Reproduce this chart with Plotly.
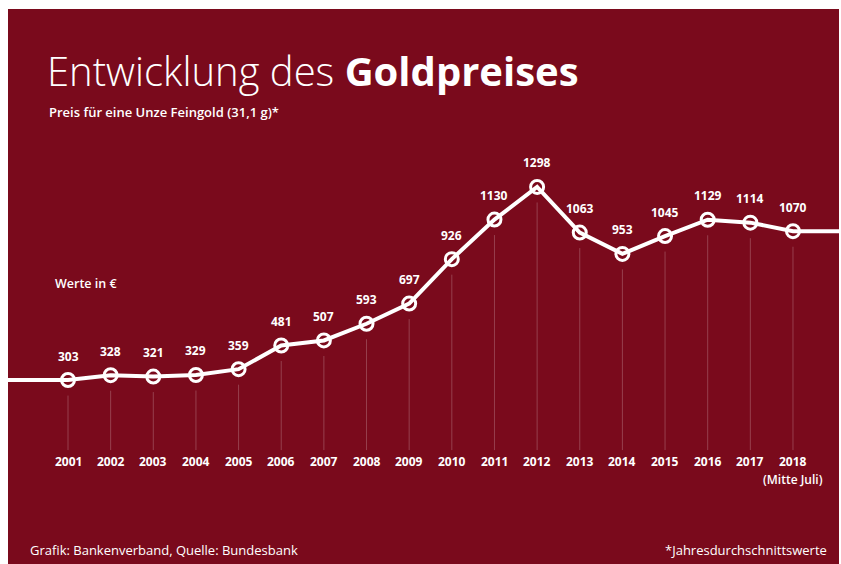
import plotly.graph_objects as go

# Gold price, annual averages in EUR per troy ounce
years = [2001, 2002, 2003, 2004, 2005, 2006, 2007, 2008, 2009,
         2010, 2011, 2012, 2013, 2014, 2015, 2016, 2017, 2018]
prices = [303, 328, 321, 329, 359, 481, 507, 593, 697,
          926, 1130, 1298, 1063, 953, 1045, 1129, 1114, 1070]
year_labels = [str(y) for y in years]

BG = "#7a0a1c"
WHITE = "#ffffff"
FONT = "Open Sans"

W, H = 841, 564
PANEL_L, PANEL_R, PANEL_T, PANEL_B = 8, 839, 9, 564

X_RANGE = [1999.593, 2019.079]
Y_RANGE = [-645, 2215]
DROP_BOTTOM = -58
DROP_GAP = 80


def py(pix):
    """Pixel row (from the top) -> paper coordinate of the plot area."""
    return (PANEL_B - pix) / (PANEL_B - PANEL_T)


def px(pix):
    """Pixel column -> paper coordinate of the plot area."""
    return (pix - PANEL_L) / (PANEL_R - PANEL_L)


fig = go.Figure()

# thin guide lines from each point down to the year labels
for x, v in zip(years, prices):
    fig.add_shape(type="line", x0=x, x1=x, y0=v - DROP_GAP, y1=DROP_BOTTOM,
                  xref="x", yref="y",
                  line=dict(color="rgba(255,255,255,0.22)", width=1))

# line runs off both edges of the panel at the first/last values
fig.add_trace(go.Scatter(
    x=[X_RANGE[0]] + years + [X_RANGE[1]],
    y=[prices[0]] + prices + [prices[-1]],
    mode="lines",
    line=dict(color=WHITE, width=4),
    hoverinfo="skip", showlegend=False,
))
fig.add_trace(go.Scatter(
    x=years, y=prices,
    mode="markers",
    marker=dict(symbol="circle-open", size=13, color=WHITE,
                line=dict(color=WHITE, width=3)),
    showlegend=False,
))

annotations = []

# value labels above the points
for x, v in zip(years, prices):
    annotations.append(dict(x=x, y=v, xref="x", yref="y", text=f"<b>{v}</b>",
                            showarrow=False, yshift=24,
                            font=dict(family=FONT, size=12, color=WHITE)))

# year labels under the guide lines
for x, lab in zip(years, year_labels):
    annotations.append(dict(x=x, y=py(461), xref="x", yref="paper",
                            text=f"<b>{lab}</b>", showarrow=False,
                            yanchor="middle",
                            font=dict(family=FONT, size=12, color=WHITE)))

annotations.append(dict(x=years[-1], y=py(479), xref="x", yref="paper",
                        text="(Mitte Juli)", showarrow=False, yanchor="middle",
                        font=dict(family=FONT, size=12, color=WHITE,
                                  weight=600)))


def label(xp, yp, text, size, anchor="left", weight=None):
    font = dict(family=FONT, size=size, color=WHITE)
    if weight:
        font["weight"] = weight
    annotations.append(dict(x=px(xp), y=py(yp), xref="paper", yref="paper",
                            xanchor=anchor, yanchor="middle", showarrow=False,
                            text=text, font=font))


label(45, 70, "Entwicklung des <b>Goldpreises</b>", 40, weight=300)
label(47, 112, "Preis für eine Unze Feingold (31,1 g)*", 13, weight=600)
label(53, 283, "Werte in €", 12.5, weight=600)
label(28, 550, "Grafik: Bankenverband, Quelle: Bundesbank", 13, weight=500)
label(829, 550, "*Jahresdurchschnittswerte", 13, anchor="right", weight=500)

fig.update_layout(
    width=W, height=H,
    margin=dict(l=PANEL_L, r=W - PANEL_R, t=PANEL_T, b=H - PANEL_B),
    paper_bgcolor=WHITE,
    plot_bgcolor=BG,
    xaxis=dict(range=X_RANGE, visible=False, fixedrange=True),
    yaxis=dict(range=Y_RANGE, visible=False, fixedrange=True),
    annotations=annotations,
    hovermode=False,
)

fig.write_html("out.html", config={"displayModeBar": False})
